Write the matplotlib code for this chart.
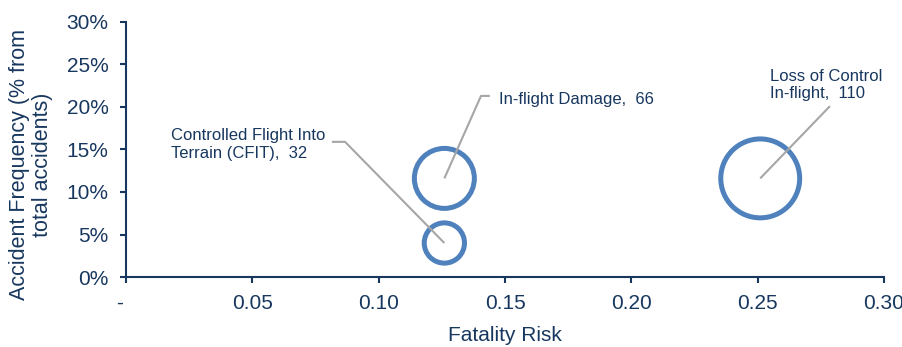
import matplotlib.pyplot as plt
import numpy as np
from matplotlib.ticker import FuncFormatter

plt.rcParams['font.family'] = ['Liberation Sans', 'DejaVu Sans']

# Data
categories = ['Controlled Flight Into\nTerrain (CFIT)', 'In-flight Damage', 'Loss of Control\nIn-flight']
fatality_risk = [0.126, 0.126, 0.251]
accident_freq = [4.0, 11.6, 11.6]          # % of total accidents
accident_count = [32, 66, 110]             # bubble size

navy = '#17375E'
blue = '#4F81BD'
grey = '#A6A6A6'

fig = plt.figure(figsize=(9.03, 3.47), dpi=100)
ax = fig.add_axes([0.1395, 0.2017, 0.8395, 0.735])

# bubble area proportional to count; outer diameter ~8 px * sqrt(count), stroke 5 px
counts = np.array(accident_count, dtype=float)
diam_px = 8 * np.sqrt(counts) - 5
sizes = (diam_px * 0.72) ** 2
ax.scatter(fatality_risk, accident_freq, s=sizes, facecolors='none',
           edgecolors=blue, linewidths=3.6, zorder=3)

# label positions (text anchor, leader-line elbow points) in data units
text_pos = [(0.0178, 15.6), (0.1476, 20.9), (0.2548, 22.6)]
leader = [[(0.0815, 15.9), (0.0867, 15.9)],
          [(0.144, 21.3), (0.1405, 21.3)],
          [(0.2786, 20.1)]]

for name, n, x, y, tp, pts in zip(categories, accident_count, fatality_risk,
                                  accident_freq, text_pos, leader):
    xs = [p[0] for p in pts] + [x]
    ys = [p[1] for p in pts] + [y]
    ax.plot(xs, ys, color=grey, lw=1.5, zorder=4, solid_capstyle='butt')
    ax.text(tp[0], tp[1], f'{name},  {n}', ha='left', va='center',
            fontsize=12, color=navy, linespacing=1.2)

ax.set_xlim(0, 0.30)
ax.set_ylim(0, 30)
ax.set_xticks(np.arange(0, 0.301, 0.05))
ax.set_yticks(np.arange(0, 31, 5))
ax.xaxis.set_major_formatter(FuncFormatter(lambda v, p: '-  ' if abs(v) < 1e-9 else f'{v:.2f}'))
ax.yaxis.set_major_formatter(FuncFormatter(lambda v, p: f'{v:.0f}%'))

for side in ['top', 'right']:
    ax.spines[side].set_visible(False)
for side in ['left', 'bottom']:
    ax.spines[side].set_color(navy)
    ax.spines[side].set_linewidth(1.5)

ax.tick_params(axis='both', colors=navy, labelcolor=navy, labelsize=15,
               length=4.5, width=1.5, direction='out', pad=8)

ax.set_xlabel('Fatality Risk', fontsize=15, color=navy, labelpad=9)
ax.set_ylabel('Accident Frequency (% from\ntotal accidents)', fontsize=15.5,
              color=navy, linespacing=1.15)
ax.yaxis.set_label_coords(-0.096, 0.44)

plt.savefig('out.png', dpi=100)
plt.close()
